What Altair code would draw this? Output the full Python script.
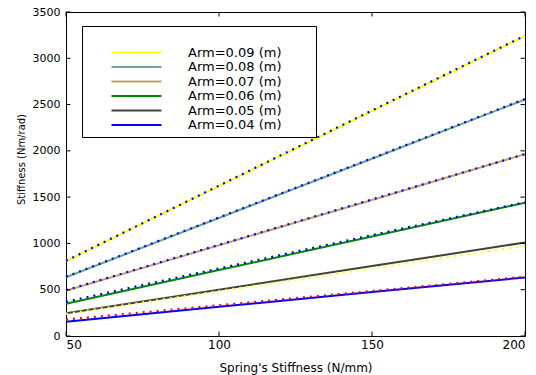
import altair as alt
import pandas as pd

# ---- data ----
x_vals = [50, 100, 150, 200]
arms = ["Arm=0.09 (m)", "Arm=0.08 (m)", "Arm=0.07 (m)",
        "Arm=0.06 (m)", "Arm=0.05 (m)", "Arm=0.04 (m)"]
solid_09 = [810, 1620, 2430, 3240]
solid_08 = [635, 1275, 1915, 2555]
solid_07 = [488, 980, 1470, 1965]
solid_06 = [348, 712, 1075, 1440]
solid_05 = [245, 500, 755, 1010]
solid_04 = [155, 315, 475, 632]
dot_09 = [812, 1624, 2436, 3245]
dot_08 = [640, 1280, 1920, 2560]
dot_07 = [495, 985, 1475, 1965]
dot_06 = [370, 730, 1090, 1445]
dot_05 = [240, 485, 730, 975]
dot_04 = [178, 332, 486, 640]
x_ticks = [50, 100, 150, 200]
y_ticks = [0, 500, 1000, 1500, 2000, 2500, 3000, 3500]

line_colors = ["#ffff00", "#6aa88c", "#c8a064", "#008a00", "#404040", "#0000ff"]
dot_colors = ["#0000ff", "#0000ff", "#0000ff", "#0000ff", "#ffff00", "#ff0000"]

solids = [solid_09, solid_08, solid_07, solid_06, solid_05, solid_04]
dots = [dot_09, dot_08, dot_07, dot_06, dot_05, dot_04]

rows_s, rows_d = [], []
for name, sv, dv, dc in zip(arms, solids, dots, dot_colors):
    for x, a, b in zip(x_vals, sv, dv):
        rows_s.append({"x": x, "y": a, "series": name})
        rows_d.append({"x": x, "y": b, "series": name, "dc": dc})
df_s = pd.DataFrame(rows_s)
df_d = pd.DataFrame(rows_d)

W, H = 459, 324
X0, X1, Y0, Y1 = 50, 200, 0, 3500
tl_px = 4.5
ty = tl_px * (Y1 - Y0) / H
tx = tl_px * (X1 - X0) / W

xs = alt.Scale(domain=[X0, X1], nice=False, zero=False)
ys = alt.Scale(domain=[Y0, Y1], nice=False)

FONT = "DejaVu Sans"

xaxis = alt.Axis(values=x_ticks, ticks=False, tickSize=0, grid=False, domainColor="black",
                 format="d",
                 labelFontSize=12, labelPadding=3, labelColor="black", labelFont=FONT,
                 title="Spring's Stiffness (N/mm)", titleFontSize=12, titleFont=FONT,
                 titleFontWeight="normal", titleColor="black", titlePadding=12)
yaxis = alt.Axis(values=y_ticks, ticks=False, tickSize=0, grid=False, domainColor="black",
                 format="d",
                 labelFontSize=11, labelPadding=6, labelColor="black", labelFont=FONT,
                 title="Stiffness (Nm/rad)", titleFontSize=10, titleFont=FONT,
                 titleFontWeight="normal", titleColor="black", titlePadding=6, titleY=147)

base = alt.Chart(df_s)
solid = base.mark_line(strokeWidth=2).encode(
    x=alt.X("x:Q", scale=xs, axis=xaxis),
    y=alt.Y("y:Q", scale=ys, axis=yaxis),
    color=alt.Color("series:N", scale=alt.Scale(domain=arms, range=line_colors), sort=arms,
                    legend=alt.Legend(orient="none", legendX=16, legendY=14, title=" ",
                                      titleFontSize=15, titlePadding=0,
                                      fillColor="white", strokeColor="black", padding=5,
                                      symbolType="M-5,0H5", symbolSize=100, symbolStrokeWidth=2,
                                      symbolOffset=43, labelOffset=45, rowPadding=0.5,
                                      labelFontSize=13, labelFont=FONT, labelColor="black",
                                      labelExpr="datum.label + '\u2800\u2800\u2800'")),
    order="x:Q",
)
dotted = alt.Chart(df_d).mark_line(strokeWidth=2.2, strokeDash=[2, 5]).encode(
    x=alt.X("x:Q", scale=xs),
    y=alt.Y("y:Q", scale=ys),
    color=alt.Color("dc:N", scale=None),
    detail="series:N",
    order="x:Q",
)

dfx = pd.DataFrame({"t": x_ticks})
dfy = pd.DataFrame({"t": y_ticks})
bt = alt.Chart(dfx).mark_rule(color="black", strokeWidth=1).encode(
    x=alt.X("t:Q", scale=xs), y=alt.datum(Y0), y2=alt.datum(Y0 + ty))
tt = alt.Chart(dfx).mark_rule(color="black", strokeWidth=1).encode(
    x=alt.X("t:Q", scale=xs), y=alt.datum(Y1), y2=alt.datum(Y1 - ty))
lt = alt.Chart(dfy).mark_rule(color="black", strokeWidth=1).encode(
    y=alt.Y("t:Q", scale=ys), x=alt.datum(X0), x2=alt.datum(X0 + tx))
rt = alt.Chart(dfy).mark_rule(color="black", strokeWidth=1).encode(
    y=alt.Y("t:Q", scale=ys), x=alt.datum(X1), x2=alt.datum(X1 - tx))

chart = alt.layer(solid, dotted, bt, tt, lt, rt).resolve_scale(color="independent").properties(
    width=W, height=H,
    autosize=alt.AutoSizeParams(type="none"),
    padding={"left": 66, "top": 12, "right": 11, "bottom": 39},
    background="white",
).configure_view(stroke="black", strokeWidth=1)

chart.save("out.html", embed_options={"renderer": "svg", "actions": False})
